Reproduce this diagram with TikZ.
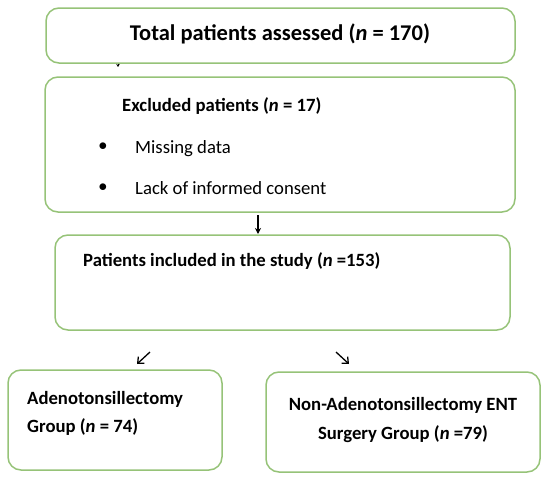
\documentclass[tikz,border=0pt]{standalone}
\usepackage{fontspec}
\setmainfont{Carlito}
\usetikzlibrary{arrows.meta}
\definecolor{boxgreen}{RGB}{150,195,120}
\tikzset{
  flowbox/.style={draw=boxgreen, line width=1.5pt, rounded corners=13pt, fill=white},
  txt/.style={inner sep=0pt, font=\fontsize{18.7}{22}\selectfont, text=black},
  boldtxt/.style={txt, font=\fontsize{18.7}{22}\selectfont\bfseries},
  arr/.style={-{Stealth[length=6pt,width=6pt]}, line width=1.6pt, black},
  barb/.style={-{Straight Barb[length=5pt,width=9pt]}, line width=1.3pt, black}
}
\begin{document}
\begin{tikzpicture}[x=1pt,y=-1pt]
\useasboundingbox (0,0) rectangle (550,490);
% boxes
\draw[flowbox] (46,8) rectangle (515,63);
\draw[flowbox] (45,77) rectangle (515,212);
\draw[flowbox] (55,235) rectangle (510,330);
\draw[flowbox] (8,370) rectangle (222,470);
\draw[flowbox] (266,372) rectangle (540,472);
% texts
\node[txt, font=\fontsize{22.5}{26}\selectfont\bfseries, anchor=base] (t1) at (280,40) {Total patients assessed (\textit{n} = 170)};
\node[boldtxt, anchor=base west] (t2) at (122,111) {Excluded patients (\textit{n} = 17)};
\node[txt] (bul1) at (103,147) {$\bullet$};
\node[txt, anchor=base west] (t2a) at (135,153) {Missing data};
\node[txt] (bul2) at (103,188) {$\bullet$};
\node[txt, anchor=base west] (t2b) at (135,194) {Lack of informed consent};
\node[boldtxt, anchor=base west] (t3) at (83,266) {Patients included in the study (\textit{n} =153)};
\node[boldtxt, anchor=base west] (t4a) at (27,404) {Adenotonsillectomy};
\node[boldtxt, anchor=base west] (t4b) at (27,432) {Group (\textit{n} = 74)};
\node[boldtxt, anchor=base] (t5a) at (403,410) {Non-Adenotonsillectomy ENT};
\node[boldtxt, anchor=base] (t5b) at (403,439) {Surgery Group (\textit{n} =79)};
% connectors
\coordinate (c0a) at (118,63.5);
\coordinate (c0b) at (118,67);
\draw[-{Stealth[length=3pt,width=3.5pt]}, line width=1pt] (c0a) -- (c0b);
\coordinate (c1a) at (258,215);
\coordinate (c1b) at (258,234);
\draw[arr] (c1a) -- (c1b);
\coordinate (c2a) at (150,352);
\coordinate (c2b) at (137,364);
\draw[barb] (c2a) -- (c2b);
\coordinate (c3a) at (336,352);
\coordinate (c3b) at (349,364);
\draw[barb] (c3a) -- (c3b);
\end{tikzpicture}
\end{document}
